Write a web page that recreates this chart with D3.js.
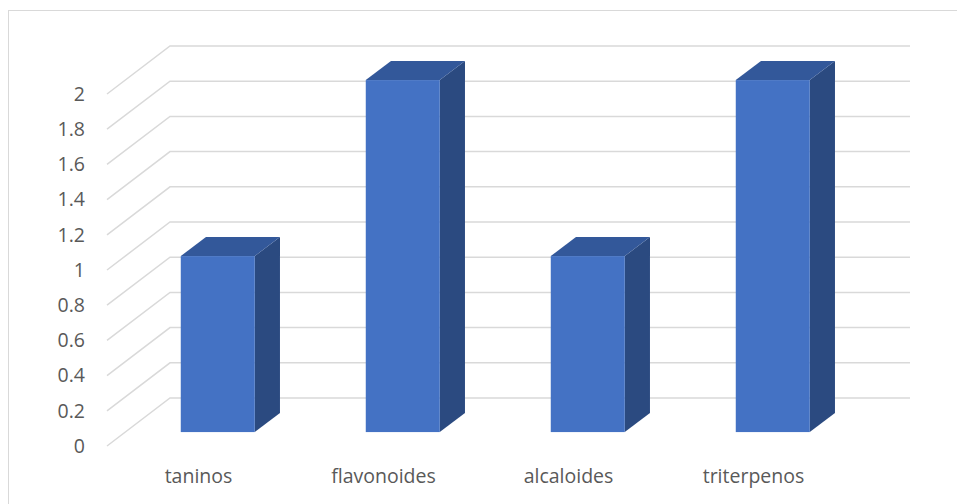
<!doctype html>
<html>
<head>
    <meta http-equiv="Content-type" content="text/html; charset=utf-8"/>
    <script src="https://d3js.org/d3.v7.min.js"></script>
    <style>
        body { margin: 0; background: #fff; }
        svg text { font-family: "Open Sans", "Liberation Sans", sans-serif; fill: #595959; }
    </style>
</head>
<body>
    <svg width="957" height="504"></svg>
    <script>
        var categories = ["taninos", "flavonoides", "alcaloides", "triterpenos"];
        var values = [1, 2, 1, 2];
        var ticks = [0, 0.2, 0.4, 0.6, 0.8, 1, 1.2, 1.4, 1.6, 1.8, 2];

        var svg = d3.select("svg");

        // chart border (right and bottom are off the picture)
        svg.append("rect")
            .attr("x", 8.5).attr("y", 10.5)
            .attr("width", 1000).attr("height", 600)
            .attr("fill", "none").attr("stroke", "#d9d9d9").attr("stroke-width", 1);

        // depth of the 3d box
        var depthX = 63, depthY = 48;

        // back wall scales
        var yBack = d3.scaleLinear().domain([0, 2]).range([398, 46]);
        var xBack = d3.scaleBand().domain(categories).range([170, 910]);

        // point at depth t (0 = front, 1 = back wall)
        function px(x, t) { return x - depthX * (1 - t); }
        function py(v, t) { return yBack(v) + depthY * (1 - t); }

        var grid = svg.append("g")
            .attr("stroke", "#d9d9d9").attr("stroke-width", 1.5).attr("fill", "none");

        grid.selectAll("path")
            .data(ticks)
            .enter()
            .append("path")
            .attr("d", function(d) {
                return "M" + px(170, 0) + "," + py(d, 0) +
                       "L" + 170 + "," + yBack(d) +
                       "L" + 910 + "," + yBack(d);
            });

        // y labels
        svg.append("g").selectAll("text")
            .data(ticks)
            .enter()
            .append("text")
            .attr("x", 85)
            .attr("y", function(d) { return py(d, 0); })
            .attr("dy", "0.35em")
            .attr("text-anchor", "end")
            .style("font-size", "19.5px")
            .text(function(d) { return d; });

        // bars
        var t1 = 0.29, t2 = 0.69, barW = 74;
        var bars = svg.append("g").selectAll("g")
            .data(categories)
            .enter()
            .append("g");

        function faces(d, i) {
            var cx = xBack(d) + xBack.bandwidth() / 2;
            var xl = px(cx, t1) - barW / 2, xr = xl + barW;
            var dx = depthX * (t2 - t1), dy = depthY * (t2 - t1);
            var yb = py(0, t1), yt = py(values[i], t1);
            return { xl: xl, xr: xr, dx: dx, dy: dy, yb: yb, yt: yt };
        }

        bars.append("path")
            .attr("fill", "#2b4a80")
            .attr("d", function(d, i) {
                var f = faces(d, i);
                return "M" + f.xr + "," + f.yt + "L" + (f.xr + f.dx) + "," + (f.yt - f.dy) +
                       "L" + (f.xr + f.dx) + "," + (f.yb - f.dy) + "L" + f.xr + "," + f.yb + "Z";
            });
        bars.append("path")
            .attr("fill", "#33589a")
            .attr("d", function(d, i) {
                var f = faces(d, i);
                return "M" + f.xl + "," + f.yt + "L" + (f.xl + f.dx) + "," + (f.yt - f.dy) +
                       "L" + (f.xr + f.dx) + "," + (f.yt - f.dy) + "L" + f.xr + "," + f.yt + "Z";
            });
        bars.append("rect")
            .attr("fill", "#4472c4")
            .attr("x", function(d, i) { return faces(d, i).xl; })
            .attr("y", function(d, i) { return faces(d, i).yt; })
            .attr("width", barW)
            .attr("height", function(d, i) { var f = faces(d, i); return f.yb - f.yt; });

        // category labels
        svg.append("g").selectAll("text")
            .data(categories)
            .enter()
            .append("text")
            .attr("x", function(d) { return px(xBack(d) + xBack.bandwidth() / 2, 0) - 1; })
            .attr("y", 476)
            .attr("dy", "0.35em")
            .attr("text-anchor", "middle")
            .style("font-size", "19.5px")
            .text(function(d) { return d; });
    </script>
</body>
</html>
